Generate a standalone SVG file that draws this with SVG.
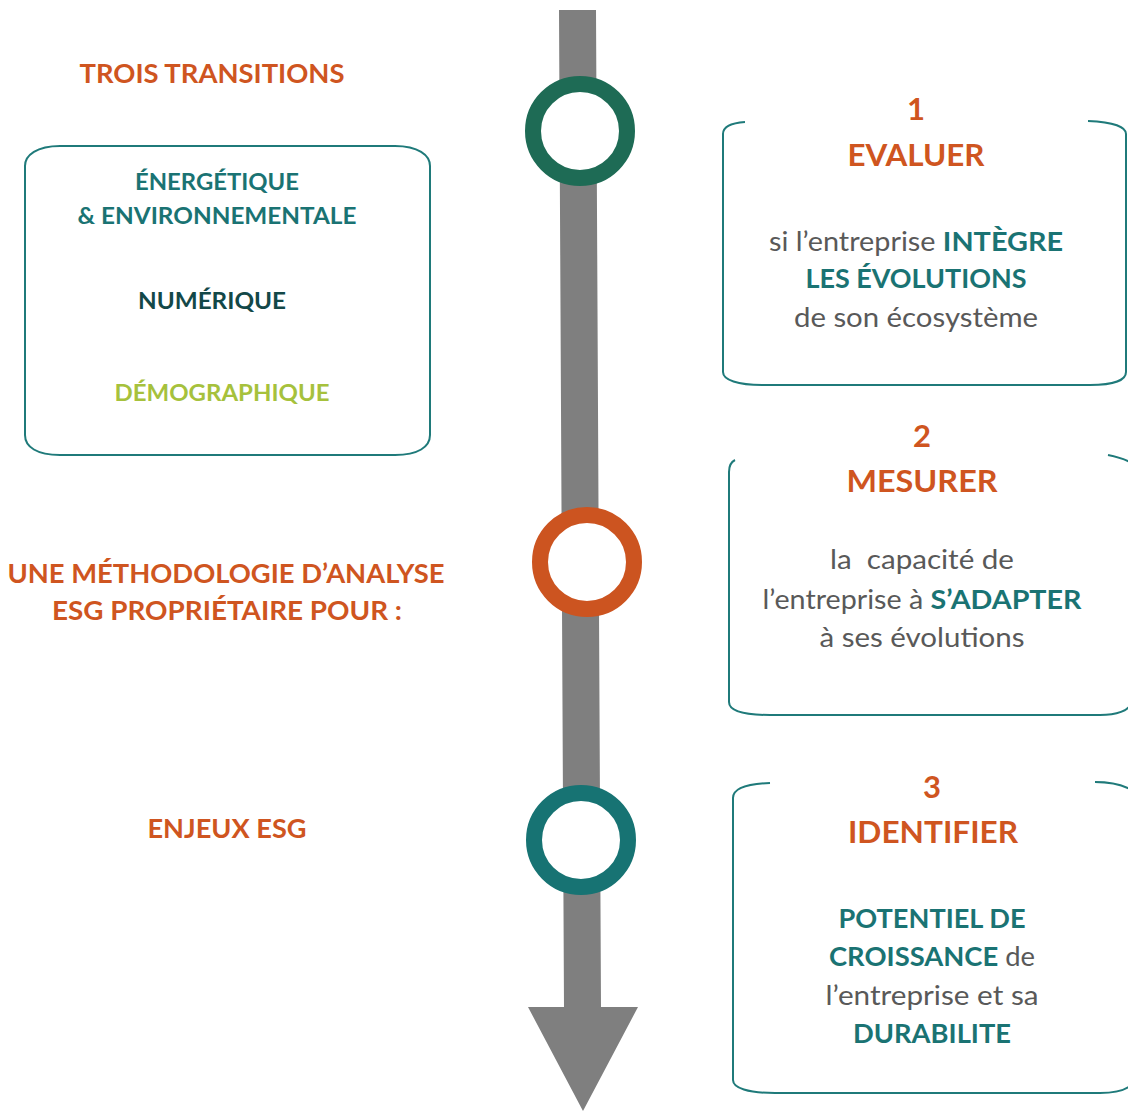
<svg xmlns="http://www.w3.org/2000/svg" width="1128" height="1111" viewBox="0 0 1128 1111">
<style>
text{font-family:Lato,"Open Sans","Liberation Sans",sans-serif;text-anchor:middle}
.h{font-weight:700;fill:#cf5520;font-size:26px}
.t{font-weight:700;fill:#cf5520;font-size:31px}
.b{font-size:26px;fill:#595959}
.k{font-weight:700;fill:#1a7373}
.box{fill:none;stroke:#1f7a7a;stroke-width:2}
.ring{fill:#fff;stroke-width:16}
</style>
<rect width="1128" height="1111" fill="#fff"/>
<g id="connectors">
<path d="M559,10 L596,10 L601,1007 L638,1007 L583,1111 L528,1007 L564,1007 Z" fill="#7f7f7f"/>
</g>
<g id="ring1"><circle class="ring" cx="580" cy="131" r="47" stroke="#1e6b55"/></g>
<g id="ring2"><circle class="ring" cx="587" cy="562" r="47" stroke="#cc5420"/></g>
<g id="ring3"><circle class="ring" cx="581" cy="840" r="47" stroke="#177373"/></g>
<g id="left-labels">
<text class="h" x="212" y="83" textLength="265" lengthAdjust="spacingAndGlyphs">TROIS TRANSITIONS</text>
<text class="h" x="226" y="583" textLength="437" lengthAdjust="spacingAndGlyphs">UNE MÉTHODOLOGIE D’ANALYSE</text>
<text class="h" x="227" y="620" textLength="350" lengthAdjust="spacingAndGlyphs">ESG PROPRIÉTAIRE POUR :</text>
<text class="h" x="227" y="838" textLength="159" lengthAdjust="spacingAndGlyphs">ENJEUX ESG</text>
</g>
<g id="transitions">
<path class="box" d="M60,146 L395,146 C418,146 430,155 430,166 L430,435 C430,447 418,455 395,455 L60,455 C37,455 25,447 25,435 L25,166 C25,155 37,146 60,146 Z"/>
<text x="217" y="190" font-size="22" font-weight="700" fill="#1a7373" textLength="164" lengthAdjust="spacingAndGlyphs">ÉNERGÉTIQUE</text>
<text x="217" y="224" font-size="22" font-weight="700" fill="#1a7373" textLength="279" lengthAdjust="spacingAndGlyphs">&amp; ENVIRONNEMENTALE</text>
<text x="212" y="309" font-size="22" font-weight="700" fill="#134848" textLength="148" lengthAdjust="spacingAndGlyphs">NUMÉRIQUE</text>
<text x="222" y="401" font-size="22" font-weight="700" fill="#a6c13c" textLength="215" lengthAdjust="spacingAndGlyphs">DÉMOGRAPHIQUE</text>
</g>
<g id="step1">
<path class="box" d="M745,122 C730,123 723,127 723,134 L723,372 C723,380 738,385 762,385 L1090,385 C1114,385 1126,380 1126,372 L1126,134 C1126,127 1114,122 1088,121"/>
<text class="t" x="916" y="120">1</text>
<text class="t" x="916" y="166" textLength="137" lengthAdjust="spacingAndGlyphs">EVALUER</text>
<text class="b" x="916" y="251" textLength="294" lengthAdjust="spacingAndGlyphs">si l’entreprise <tspan class="k">INTÈGRE</tspan></text>
<text class="b k" x="916" y="288" textLength="221" lengthAdjust="spacingAndGlyphs">LES ÉVOLUTIONS</text>
<text class="b" x="916" y="327" textLength="244" lengthAdjust="spacingAndGlyphs">de son écosystème</text>
</g>
<g id="step2">
<path class="box" d="M735,460 C731,462 729,466 729,472 L729,702 C729,710 742,715 770,715 L1100,715 C1118,715 1128,710 1130,705 M1108,455 C1118,457 1126,460 1130,462"/>
<text class="t" x="922" y="447">2</text>
<text class="t" x="922" y="492" textLength="151" lengthAdjust="spacingAndGlyphs">MESURER</text>
<text class="b" x="922" y="569" textLength="184" lengthAdjust="spacingAndGlyphs" xml:space="preserve">la  capacité de</text>
<text class="b" x="922" y="609" textLength="319" lengthAdjust="spacingAndGlyphs">l’entreprise à <tspan class="k">S’ADAPTER</tspan></text>
<text class="b" x="922" y="647" textLength="205" lengthAdjust="spacingAndGlyphs">à ses évolutions</text>
</g>
<g id="step3">
<path class="box" d="M770,783 C745,784 733,789 733,798 L733,1080 C733,1088 748,1093 775,1093 L1100,1093 C1115,1093 1125,1090 1130,1086 M1095,782 C1112,782 1122,785 1130,789"/>
<text class="t" x="932" y="798">3</text>
<text class="t" x="933" y="843" textLength="170" lengthAdjust="spacingAndGlyphs">IDENTIFIER</text>
<text class="b k" x="932" y="928" textLength="187" lengthAdjust="spacingAndGlyphs">POTENTIEL DE</text>
<text class="b" x="932" y="966" textLength="206" lengthAdjust="spacingAndGlyphs"><tspan class="k">CROISSANCE</tspan> de</text>
<text class="b" x="932" y="1005" textLength="213" lengthAdjust="spacingAndGlyphs">l’entreprise et sa</text>
<text class="b k" x="932" y="1043" textLength="158" lengthAdjust="spacingAndGlyphs">DURABILITE</text>
</g>
</svg>
